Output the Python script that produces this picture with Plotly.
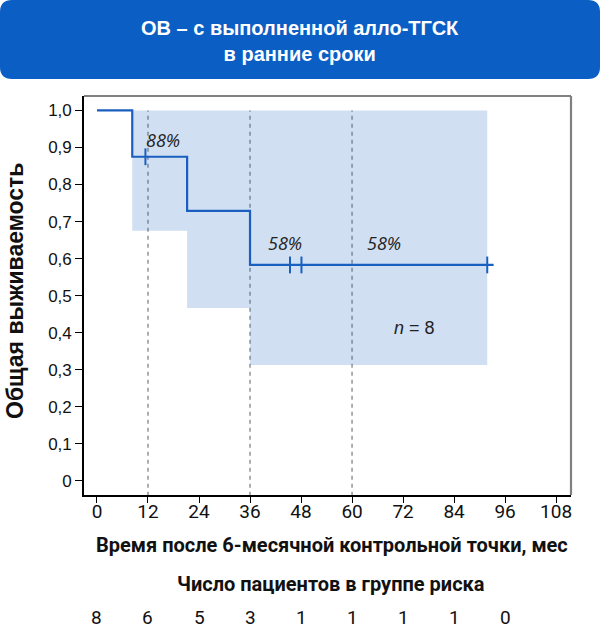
import plotly.graph_objects as go

# Kaplan-Meier survival data (months after 6-month landmark)
km_x = [0, 8.3, 8.3, 21.2, 21.2, 36.0, 36.0, 93.3]
km_y = [1.0, 1.0, 0.875, 0.875, 0.729, 0.729, 0.583, 0.583]

censor_x = [11.4, 45.4, 48.1, 91.8]
censor_y = [0.875, 0.583, 0.583, 0.583]

# 95% CI band (step)
ci_x = [8.3, 21.2, 21.2, 36.0, 36.0, 91.8]
ci_low = [0.675, 0.675, 0.467, 0.467, 0.313, 0.313]
ci_high = [1.0, 1.0, 1.0, 1.0, 1.0, 1.0]

# landmark lines and labels
mark_x = [12, 36, 60]
label_x = [15.5, 44.2, 67.5]
label_y = [0.92, 0.642, 0.642]
label_txt = ["88%", "58%", "58%"]

# patients at risk
risk_x = [0, 12, 24, 36, 48, 60, 72, 84, 96]
risk_n = [8, 6, 5, 3, 1, 1, 1, 1, 0]

xticks = list(range(0, 109, 12))
yticks = [i / 10 for i in range(11)]
yticktext = ["0"] + [f"{v:.1f}".replace(".", ",") for v in yticks[1:]]

W, H = 600, 629
ML, MR, MT, MB = 84, 29, 96, 134
PW, PH = W - ML - MR, H - MT - MB

def px(x):
    return (x - ML) / PW

def py(y):
    return (H - MB - y) / PH

blue = "#1a5fc0"

fig = go.Figure()

# CI band
fig.add_trace(go.Scatter(x=ci_x + ci_x[::-1], y=ci_high + ci_low[::-1],
                         fill="toself", fillcolor="rgba(20,95,190,0.2)",
                         line=dict(width=0), mode="lines", hoverinfo="skip",
                         showlegend=False))

# KM curve
fig.add_trace(go.Scatter(x=km_x, y=km_y, mode="lines",
                         line=dict(color=blue, width=2.2), showlegend=False))

# censor marks
fig.add_trace(go.Scatter(x=censor_x, y=censor_y, mode="markers",
                         marker=dict(symbol="line-ns", size=12,
                                     line=dict(color=blue, width=2)),
                         showlegend=False))

shapes = []
for m in mark_x:
    shapes.append(dict(type="line", xref="x", yref="y", x0=m, x1=m, y0=-0.04, y1=1.0,
                       line=dict(color="#9a9a9a", width=1.6, dash="4px,4px"), layer="below"))

# frame top/right in gray
shapes.append(dict(type="line", xref="paper", yref="paper", x0=0, x1=1, y0=1, y1=1,
                   line=dict(color="#808080", width=2.2)))
shapes.append(dict(type="line", xref="paper", yref="paper", x0=1, x1=1, y0=0, y1=1,
                   line=dict(color="#808080", width=2.2)))

# header rounded rectangle
r = 12
x0, x1, y0, y1 = 0, 600, 0, 79
pts = (f"M {px(x0 + r)},{py(y0)} L {px(x1 - r)},{py(y0)} "
       f"Q {px(x1)},{py(y0)} {px(x1)},{py(y0 + r)} L {px(x1)},{py(y1 - r)} "
       f"Q {px(x1)},{py(y1)} {px(x1 - r)},{py(y1)} L {px(x0 + r)},{py(y1)} "
       f"Q {px(x0)},{py(y1)} {px(x0)},{py(y1 - r)} L {px(x0)},{py(y0 + r)} "
       f"Q {px(x0)},{py(y0)} {px(x0 + r)},{py(y0)} Z")
shapes.append(dict(type="path", xref="paper", yref="paper", path=pts,
                   fillcolor="#0b5ec4", line=dict(width=0)))

def note(x, y, text, size, family="Roboto", **kw):
    return dict(x=x, y=y, text=text, showarrow=False, xanchor="center", yanchor="middle",
                font=dict(family=family, size=size, color=kw.pop("color", "#111")), **kw)

annotations = []
annotations.append(note(0.5 * (px(0) + px(600)), py(41),
                        "<b>ОВ – с выполненной алло-ТГСК<br>в ранние сроки</b>", 20,
                        family="Liberation Sans", color="white",
                        xref="paper", yref="paper", align="center"))
for lx, ly, lt in zip(label_x, label_y, label_txt):
    annotations.append(note(lx, ly, f"<i>{lt}</i>", 18, family="Open Sans", color="#222"))
annotations.append(note(74.8, 0.412, "<i>n</i> = 8", 18, family="Liberation Sans", color="#222"))

annotations.append(note(px(15), py(291), "<b>Общая выживаемость</b>", 23,
                        family="Liberation Sans", xref="paper", yref="paper", textangle=-90))
annotations.append(note(px(332), py(545), "<b>Время после 6-месячной контрольной точки, мес</b>",
                        20, xref="paper", yref="paper"))
annotations.append(note(px(331), py(584), "<b>Число пациентов в группе риска</b>",
                        20, xref="paper", yref="paper"))
for rx, rn in zip(risk_x, risk_n):
    annotations.append(note(rx, py(617), str(rn), 19, xref="x", yref="paper"))

fig.update_layout(
    width=W, height=H,
    margin=dict(l=ML, r=MR, t=MT, b=MB),
    plot_bgcolor="white", paper_bgcolor="white",
    xaxis=dict(range=[-3.05, 111.5], tickvals=xticks, showgrid=False, zeroline=False,
               showline=True, linecolor="black", linewidth=1.6,
               ticks="outside", ticklen=6, tickcolor="black", tickwidth=1.3,
               ticklabelstandoff=-8,
               tickfont=dict(family="Roboto", size=19, color="#111")),
    yaxis=dict(range=[-0.038, 1.039], tickvals=yticks, ticktext=yticktext,
               showgrid=False, zeroline=False,
               showline=True, linecolor="black", linewidth=1.6,
               ticks="outside", ticklen=7, tickcolor="black", tickwidth=1.3,
               tickfont=dict(family="Liberation Sans", size=17, color="#111")),
    shapes=shapes,
    annotations=annotations,
)

fig.write_html("out.html", config={"displayModeBar": False},
               post_script="document.body.style.margin='0';")
